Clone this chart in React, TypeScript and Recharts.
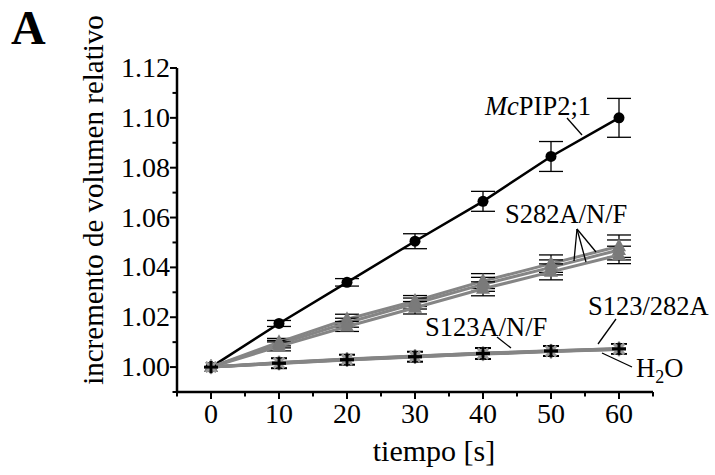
import React from "react";
import { ErrorBar, Line, LineChart, XAxis, YAxis } from "recharts";

// tiempo [s]
const time = [0, 10, 20, 30, 40, 50, 60];

// McPIP2;1
const mcPip21 = [1.0, 1.0175, 1.034, 1.0505, 1.0665, 1.0845, 1.1];
const mcPip21Err = [null, 0.0012, 0.0015, 0.003, 0.004, 0.006, 0.0078];

// S282A / S282N / S282F
const s282a = [1.0, 1.01, 1.0192, 1.0265, 1.0345, 1.0415, 1.0485];
const s282aErr = [null, 0.0015, 0.002, 0.0022, 0.003, 0.0035, 0.0045];
const s282n = [1.0, 1.0092, 1.0178, 1.0255, 1.0332, 1.04, 1.047];
const s282nErr = [null, 0.0015, 0.0018, 0.0022, 0.0028, 0.003, 0.004];
const s282f = [1.0, 1.0083, 1.0163, 1.0238, 1.0314, 1.0382, 1.045];
const s282fErr = [null, 0.0018, 0.002, 0.0025, 0.0028, 0.0032, 0.0035];

// S123A / S123N / S123F, S123/282A, H2O
const s123a = [1.0, 1.0018, 1.0032, 1.0044, 1.0055, 1.0065, 1.0075];
const s123n = [1.0, 1.0016, 1.003, 1.0042, 1.0054, 1.0064, 1.0073];
const s123f = [1.0, 1.0015, 1.0029, 1.0041, 1.0052, 1.0062, 1.0071];
const s123282a = [1.0, 1.0017, 1.0031, 1.0043, 1.0056, 1.0066, 1.0074];
const h2o = [1.0, 1.0014, 1.0028, 1.004, 1.0053, 1.0063, 1.0072];
const bottomErr = [null, 0.002, 0.002, 0.002, 0.0022, 0.002, 0.002];

const xTicks = [-5, 0, 5, 10, 15, 20, 25, 30, 35, 40, 45, 50, 55, 60, 65];
const yTicks = [
  0.99, 1.0, 1.01, 1.02, 1.03, 1.04, 1.05, 1.06, 1.07, 1.08, 1.09, 1.1, 1.11,
  1.12,
];

const rows = time.map((t, i) => ({
  t,
  mc: mcPip21[i],
  mcErr: mcPip21Err[i],
  s282a: s282a[i],
  s282aErr: s282aErr[i],
  s282n: s282n[i],
  s282nErr: s282nErr[i],
  s282f: s282f[i],
  s282fErr: s282fErr[i],
  s123a: s123a[i],
  s123n: s123n[i],
  s123f: s123f[i],
  s123282a: s123282a[i],
  h2o: h2o[i],
  bErr: bottomErr[i],
}));

const FONT = "Times New Roman, Liberation Serif, Tinos, serif";
const GRAY = "#858585";

function XTick(props: any) {
  const { x, y, payload } = props;
  const v = payload.value;
  const major = v % 10 === 0 && v >= 0 && v <= 60;
  return (
    <g>
      <line x1={x} x2={x} y1={y} y2={y + (major ? 7 : 4.5)} stroke="#000" strokeWidth={2} />
      {major && (
        <text x={x} y={y + 31} textAnchor="middle" style={{ fontFamily: FONT }} fontSize={28} fill="#000">
          {v}
        </text>
      )}
    </g>
  );
}

function YTick(props: any) {
  const { x, y, payload } = props;
  const v = payload.value;
  const hund = Math.round(v * 100);
  const major = hund % 2 === 0 && hund >= 100;
  return (
    <g>
      <line x1={x} x2={x - (major ? 7 : 4.5)} y1={y} y2={y} stroke="#000" strokeWidth={2} />
      {major && (
        <text x={x - 7} y={y + 9} textAnchor="end" style={{ fontFamily: FONT }} fontSize={28} fill="#000">
          {v.toFixed(2)}
        </text>
      )}
    </g>
  );
}

function Circle(props: any) {
  const { cx, cy, index } = props;
  return <circle key={`c${index}`} cx={cx} cy={cy} r={5.5} fill="#000" />;
}

function Triangle(props: any) {
  const { cx, cy, index } = props;
  return (
    <path
      key={`t${index}`}
      d={`M${cx},${cy - 8}L${cx + 7},${cy + 5}L${cx - 7},${cy + 5}Z`}
      fill="#7a7a7a"
    />
  );
}

function Star(props: any) {
  const { cx, cy, index } = props;
  return (
    <g key={`s${index}`} stroke="#9a9a9a" strokeWidth={2.2}>
      <line x1={cx - 7} x2={cx + 7} y1={cy} y2={cy} />
      <line x1={cx} x2={cx} y1={cy - 7} y2={cy + 7} />
      <line x1={cx - 5} x2={cx + 5} y1={cy - 5} y2={cy + 5} />
      <line x1={cx - 5} x2={cx + 5} y1={cy + 5} y2={cy - 5} />
    </g>
  );
}

function Plus(props: any) {
  const { cx, cy, index } = props;
  return (
    <g key={`p${index}`} stroke="#000" strokeWidth={2.5}>
      <line x1={cx - 7} x2={cx + 7} y1={cy} y2={cy} />
      <line x1={cx} x2={cx} y1={cy - 6} y2={cy + 6} />
    </g>
  );
}

const errProps = { width: 12, strokeWidth: 1.3, stroke: "#000", direction: "y" as const };

export default function App() {
  return (
    <div style={{ position: "absolute", left: 0, top: 0, width: 715, height: 475, background: "#fff", fontFamily: FONT }}>
      <LineChart
        width={715}
        height={475}
        data={rows}
        margin={{ top: 68, right: 62, bottom: 0, left: 0 }}
      >
        <XAxis
          dataKey="t"
          type="number"
          domain={[-5, 65]}
          ticks={xTicks}
          interval={0}
          height={83}
          tickSize={0}
          tickMargin={0}
          tickLine={false}
          tick={<XTick />}
          axisLine={{ stroke: "#000", strokeWidth: 2.5 }}
        />
        <YAxis
          type="number"
          domain={[0.99, 1.12]}
          ticks={yTicks}
          interval={0}
          width={177}
          tickSize={0}
          tickMargin={0}
          tickLine={false}
          tick={<YTick />}
          axisLine={{ stroke: "#000", strokeWidth: 2.5 }}
        />
        <Line dataKey="mc" stroke="#000" strokeWidth={2.5} dot={Circle} isAnimationActive={false}>
          <ErrorBar dataKey="mcErr" {...errProps} />
        </Line>
        <Line dataKey="s282a" stroke={GRAY} strokeWidth={3} dot={Triangle} isAnimationActive={false}>
          <ErrorBar dataKey="s282aErr" {...errProps} />
        </Line>
        <Line dataKey="s282n" stroke={GRAY} strokeWidth={3} dot={Triangle} isAnimationActive={false}>
          <ErrorBar dataKey="s282nErr" {...errProps} />
        </Line>
        <Line dataKey="s282f" stroke={GRAY} strokeWidth={3} dot={Triangle} isAnimationActive={false}>
          <ErrorBar dataKey="s282fErr" {...errProps} />
        </Line>
        <Line dataKey="s123a" stroke={GRAY} strokeWidth={3} dot={Star} isAnimationActive={false} />
        <Line dataKey="s123n" stroke={GRAY} strokeWidth={3} dot={Star} isAnimationActive={false} />
        <Line dataKey="s123f" stroke={GRAY} strokeWidth={3} dot={Star} isAnimationActive={false} />
        <Line dataKey="s123282a" stroke={GRAY} strokeWidth={3} dot={Plus} isAnimationActive={false}>
          <ErrorBar dataKey="bErr" {...errProps} width={8} />
        </Line>
        <Line dataKey="h2o" stroke={GRAY} strokeWidth={3} dot={Plus} isAnimationActive={false}>
          <ErrorBar dataKey="bErr" {...errProps} width={8} />
        </Line>
      </LineChart>

      <svg
        width={715}
        height={475}
        style={{ position: "absolute", left: 0, top: 0, pointerEvents: "none", fontFamily: FONT }}
      >
        <text x={11} y={44} fontSize={48} fontWeight="bold">A</text>
        <text
          transform="translate(103,200) rotate(-90)"
          textAnchor="middle"
          fontSize={29}
        >
          incremento de volumen relativo
        </text>
        <text x={434} y={461} textAnchor="middle" fontSize={30}>tiempo [s]</text>

        <g fontSize={26.5} fill="#000">
          <text x={485} y={115}>
            <tspan fontStyle="italic">Mc</tspan>PIP2;1
          </text>
          <text x={505} y={223}>S282A/N/F</text>
          <text x={588} y={315}>S123/282A</text>
          <text x={425} y={336}>S123A/N/F</text>
          <text x={636} y={377}>
            H<tspan fontSize={18} dy={6}>2</tspan><tspan dy={-6}>O</tspan>
          </text>
        </g>
        <g stroke="#000" strokeWidth={1.3}>
          <line x1={567} y1={118} x2={582} y2={135} />
          <line x1={577} y1={229} x2={574} y2={261} />
          <line x1={577} y1={229} x2={586} y2={262} />
          <line x1={577} y1={229} x2={596} y2={252} />
          <line x1={616} y1={319} x2={598} y2={344} />
          <line x1={497} y1={337} x2={511} y2={348} />
          <line x1={602} y1={353} x2={632} y2={367} />
        </g>
      </svg>
    </div>
  );
}
